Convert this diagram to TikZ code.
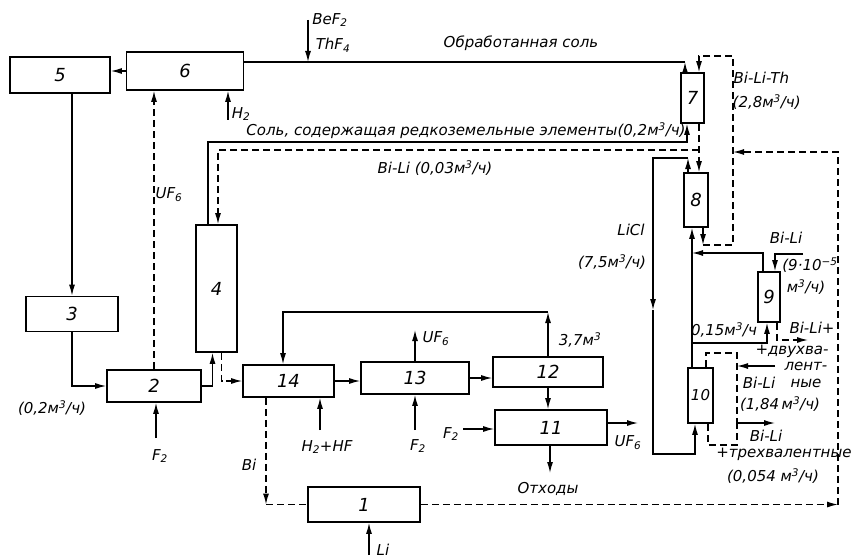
\documentclass[tikz,border=0pt]{standalone}
\usepackage{fontspec}
\setmainfont{DejaVu Sans}
\usepackage{tikz}
\usetikzlibrary{positioning,arrows.meta,calc}
\newcommand{\mcub}{м\textsuperscript{3}}

\begin{document}
\begin{tikzpicture}[
  x=1pt, y=-1pt,
  font=\fontsize{15}{17}\selectfont\itshape,
  box/.style={draw, line width=1.6pt, inner sep=0pt, font=\fontsize{18}{18}\selectfont\itshape},
  arr/.style={line width=1.3pt, -{Latex[length=11pt,width=6pt]}},
  ln/.style={line width=1.3pt},
  darr/.style={arr, dash pattern=on 7pt off 4pt},
  dln/.style={ln, dash pattern=on 7pt off 4pt},
  lbl/.style={inner sep=0.5pt}
]
\useasboundingbox (0,0) rectangle (854,559);
\node[box, minimum width=100pt, minimum height=36pt] (b5) at (60,75) {5};
\node[box, minimum width=117pt, minimum height=38pt] (b6) at (185,71) {6};
\node[box, minimum width=92pt, minimum height=35pt] (b3) at (72,314) {3};
\node[box, minimum width=94pt, minimum height=32pt] (b2) at (154,386) {2};
\node[box, minimum width=41pt, minimum height=127pt] (b4) at (216.5,288.5) {4};
\node[box, minimum width=91pt, minimum height=32pt] (b14) at (288.5,381) {14};
\node[box, minimum width=108pt, minimum height=32pt] (b13) at (415,378) {13};
\node[box, minimum width=110pt, minimum height=30pt] (b12) at (548,372) {12};
\node[box, minimum width=112pt, minimum height=35pt] (b11) at (551,427.5) {11};
\node[box, minimum width=112pt, minimum height=35pt] (b1) at (364,504.5) {1};
\node[box, minimum width=23pt, minimum height=50pt] (b7) at (692.5,98) {7};
\node[box, minimum width=24pt, minimum height=54pt] (b8) at (696,200) {8};
\node[box, minimum width=22pt, minimum height=50pt] (b9) at (769,297) {9};
\node[box, minimum width=25pt, minimum height=55pt, font=\fontsize{15}{15}\selectfont\itshape] (b10) at (700.5,395.5) {10};

\coordinate (bef) at (308,20);
\coordinate (s1) at (685,62);
\coordinate (h2) at (228,120);
\coordinate (s2) at (687,142);
\coordinate (d1) at (699,150);
\coordinate (t1) at (733,56);
\coordinate (t2) at (733,245);
\coordinate (lb8) at (703,245);
\coordinate (c1) at (688,158);
\coordinate (c2) at (653,158);
\coordinate (cm) at (653,310);
\coordinate (c3) at (653,454);
\coordinate (r1) at (838,504.5);
\coordinate (r3) at (733,152);
\coordinate (j1) at (692,253);
\coordinate (j2) at (692,343);
\coordinate (bl9) at (803,254);
\coordinate (bo9) at (808,340);
\coordinate (k1) at (737,353);
\coordinate (k2) at (737,423);
\coordinate (k3) at (775,366);
\coordinate (k4) at (775,423);
\coordinate (k5) at (737,445);
\coordinate (top) at (548,312);
\coordinate (uf13) at (415,330);
\coordinate (f13) at (415,430);
\coordinate (hhf) at (320,430);
\coordinate (f11) at (463,429);
\coordinate (uf11) at (638,423);
\coordinate (otx) at (550,473);
\coordinate (bi) at (266,504.5);
\coordinate (li) at (369,555);
\coordinate (f2) at (156,438);

\draw[arr] (b6.west) -- (b6.west -| b5.east);
\draw[arr] (b3.north |- b5.south) -- (b3.north);
\draw[arr] (b3.south) |- (b2.west);
\draw[arr] (f2) -- (f2 |- b2.south);
\draw[darr] (b2.north) -- (b2.north |- b6.south);
\draw[arr] (h2) -- (h2 |- b6.south);
\draw[arr] (b2.east) -| ([xshift=-4pt]b4.south);
\draw[darr] ([xshift=5pt]b4.south) |- (b14.west);
\draw[arr] (b14.east) -- (b14.east -| b13.west);
\draw[arr] (b13.east) -- (b13.east -| b12.west);
\draw[arr] (b12.north) -- (top);
\draw[arr] (top) -| ([xshift=-5.5pt]b14.north);
\draw[arr] (b13.north) -- (uf13);
\draw[arr] (f13) -- (b13.south);
\draw[arr] (hhf) -- (hhf |- b14.south);
\draw[arr] (b12.south) -- (b12.south |- b11.north);
\draw[arr] (f11) -- (f11 -| b11.west);
\draw[arr] (uf11 -| b11.east) -- (uf11);
\draw[arr] (otx |- b11.south) -- (otx);
\draw[dln] (bi) -- (b1.west);
\draw[darr] (bi |- b14.south) -- (bi);
\draw[arr] (li) -- (li |- b1.south);
\draw[darr] (b1.east) -- (r1);
\draw[darr] (r1) |- (r3);

\draw[arr] (bef) -- (bef |- s1);
\draw[ln] (s1) -- (s1 -| b6.east);
\draw[arr] (s1 |- b7.north) -- (s1);
\draw[darr] (lb8 |- b8.south) -- (lb8);
\draw[darr] (lb8) -- (t2) -- (t1) -| (d1 |- b7.north);
\draw[arr] ([xshift=-8.5pt]b4.north) |- (s2) -- (s2 |- b7.south);
\draw[darr] (d1 |- b7.south) -- (d1 |- b8.north);
\draw[darr] (d1) -| ([xshift=1.5pt]b4.north);
\draw[arr] (c1 |- b8.north) -- (c1);
\draw[arr] (c1) -- (c2) -- (cm);
\draw[arr] (cm) -- (c3) -| ([xshift=-5.5pt]b10.south);
\draw[arr] ([xshift=-8.5pt]b10.north) -- ([xshift=-8.5pt]b10.north |- b8.south);
\draw[arr] ([xshift=-6pt]b9.north) |- (j1);
\draw[arr] (j2) -| ([xshift=-2pt]b9.south);
\draw[arr] (bl9) -| ([xshift=6pt]b9.north);
\draw[darr] ([xshift=8pt]b9.south) |- (bo9);
\draw[dln] ([xshift=5.5pt]b10.north) |- (k1) -- (k2);
\draw[arr] (k3) -- (k3 -| k1);
\draw[arr] (k2) -- (k4);
\draw[dln] ([xshift=7.5pt]b10.south) |- (k5) -- (k2);

\node[lbl] (tbef) at (330,20) {BeF\textsubscript{2}};
\node[lbl] (tthf) at (333,45) {ThF\textsubscript{4}};
\node[lbl] (tobr) at (521,43) {Обработанная соль};
\node[lbl] (th2) at (241,114) {H\textsubscript{2}};
\node[lbl] (tuf2) at (169,195) {UF\textsubscript{6}};
\node[lbl] (tsol) at (466,131) {Соль, содержащая редкоземельные элементы(0,2\mcub/ч)};
\node[lbl] (tbl4) at (435,168) {Bi-Li (0,03\mcub/ч)};
\node[lbl, anchor=west] (tblth) at (733,78) {Bi-Li-Th};
\node[lbl, anchor=west] (tblthr) at (732,102) {(2,8\mcub/ч)};
\node[lbl] (tlicl) at (631,230) {LiCl};
\node[lbl] (tlicr) at (612,262) {(7,5\mcub/ч)};
\node[lbl] (tbl9) at (786,238) {Bi-Li};
\node[lbl] (tbl9a) at (810,265) {(9·10\textsuperscript{−5}};
\node[lbl] (tbl9b) at (806,287) {\mcub/ч)};
\node[lbl] (t015) at (724,330) {0,15\mcub/ч};
\node[lbl] (tbo1) at (812,328) {Bi-Li+};
\node[lbl] (tbo2) at (792,351) {+двухва-};
\node[lbl] (tbo3) at (806,366) {лент-};
\node[lbl] (tbo4) at (806,383) {ные};
\node[lbl] (tbi10) at (759,383) {Bi-Li};
\node[lbl] (tbi10r) at (780,404) {(1,84\,\mcub/ч)};
\node[lbl] (tbo10) at (766,436) {Bi-Li};
\node[lbl] (tbo10a) at (784,454) {+трехвалентные};
\node[lbl] (tbo10b) at (773,476) {(0,054 \mcub/ч)};
\node[lbl] (t37) at (580,340) {3,7\mcub};
\node[lbl] (tuf13) at (436,339) {UF\textsubscript{6}};
\node[lbl] (t02) at (52,408) {(0,2\mcub/ч)};
\node[lbl] (tf2) at (160,456) {F\textsubscript{2}};
\node[lbl] (thhf) at (327,447) {H\textsubscript{2}+HF};
\node[lbl] (tf13) at (418,446) {F\textsubscript{2}};
\node[lbl] (tf11) at (451,434) {F\textsubscript{2}};
\node[lbl] (tuf11) at (628,443) {UF\textsubscript{6}};
\node[lbl] (totx) at (548,489) {Отходы};
\node[lbl] (tbi) at (249,465) {Bi};
\node[lbl] (tli) at (383,550) {Li};
\end{tikzpicture}
\end{document}
